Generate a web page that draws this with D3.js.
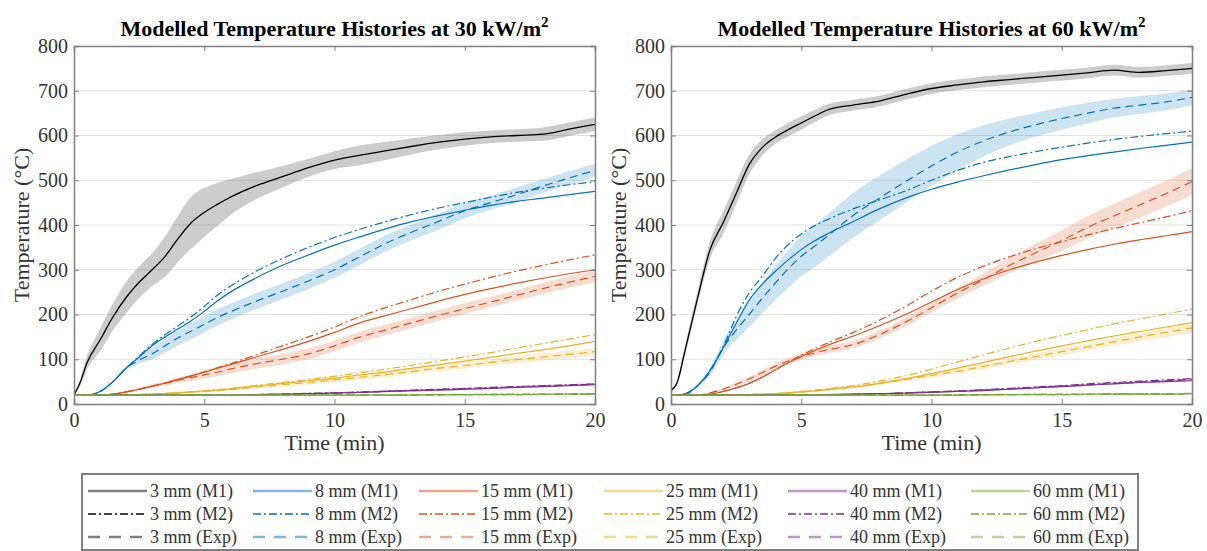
<!DOCTYPE html>
<html>
<head>
<meta charset="utf-8">
<script src="https://cdn.jsdelivr.net/npm/d3@7"></script>
<style>
  body { margin: 0; background: #fff; }
  svg, svg text { font-family: "Liberation Serif", "Times New Roman", serif; }
</style>
</head>
<body>
<svg id="chart" width="1207" height="551"></svg>
<script>
// time grid (min) shared by every series
const timeGrid = [0, 0.25, 0.5, 1, 1.5, 2, 2.5, 3, 3.5, 4, 4.5, 5, 5.5, 6, 7, 8, 9, 10, 11, 12, 13, 14, 15, 16, 17, 18, 19, 20];

const thicknesses = ["3 mm", "8 mm", "15 mm", "25 mm", "40 mm", "60 mm"];
const colors = ["#000000", "#0072BD", "#D95319", "#EDB120", "#7E2F8E", "#77AC30"];
const yTicks = [0, 100, 200, 300, 400, 500, 600, 700, 800];
const xTicks = [0, 5, 10, 15, 20];

// ---- 30 kW/m2 ----
const q30_3_exp  = [20,50,92,143,195,238,272,300,330,370,405,428,446,462,488,508,528,545,556,566,576,585,592,597,600,603,614,625];
const q30_3_band = [2,8,15,25,30,35,35,37,45,52,58,55,48,40,30,24,20,20,22,20,18,16,15,14,14,15,15,15];

const q30_8_m1   = [20,20,20,28,50,80,105,130,150,168,186,207,230,250,282,310,333,355,374,392,408,421,433,444,453,460,468,475];
const q30_8_m2   = [20,20,20,28,50,80,107,133,155,175,195,218,243,263,297,325,350,372,391,408,424,438,450,462,473,482,490,497];
const q30_8_exp  = [20,20,20,28,50,80,98,112,130,148,163,178,193,206,230,252,275,300,330,360,385,408,432,450,468,487,505,522];
const q30_8_band = [0,0,0,1,2,4,8,12,15,17,18,18,18,18,18,18,18,18,18,18,18,18,17,16,16,15,15,15];

const q30_15_m1   = [20,20,20,20,22,27,33,40,47,55,63,71,80,88,105,122,140,160,182,198,214,230,245,258,270,281,291,300];
const q30_15_m2   = [20,20,20,20,22,27,33,40,47,55,63,72,81,90,110,130,150,172,196,216,234,252,268,283,297,310,322,333];
const q30_15_exp  = [20,20,20,20,22,27,33,40,46,53,59,65,71,78,90,100,112,130,150,166,182,198,213,228,243,258,272,285];
const q30_15_band = [0,0,0,0,1,2,3,4,5,6,7,8,9,10,11,12,12,12,12,12,12,12,12,12,12,13,13,13];

const q30_25_m1   = [20,20,20,20,20,20,21,22,23,25,27,29,31,34,40,46,52,58,65,72,80,88,96,104,113,121,130,140];
const q30_25_m2   = [20,20,20,20,20,20,21,22,23,25,27,30,32,35,42,48,55,62,70,78,87,96,105,115,125,135,145,155];
const q30_25_exp  = [20,20,20,20,20,20,21,22,24,25,27,28,30,32,38,43,48,54,60,66,73,80,86,93,99,105,111,117];
const q30_25_band = [0,0,0,0,0,0,0,1,1,1,2,2,2,3,3,4,4,5,5,6,6,7,7,7,8,8,8,8];

const q30_40_m1   = [20,20,20,20,20,20,20,20,20,20,20,20,20,20,21,22,23,25,26,28,30,31,33,35,37,39,41,43];
const q30_40_m2   = [20,20,20,20,20,20,20,20,20,20,20,20,20,20,21,22,24,25,27,29,31,33,35,37,39,41,43,45];
const q30_40_exp  = [20,20,20,20,20,20,20,20,20,20,20,20,20,20,21,22,23,24,26,28,30,32,34,36,38,40,42,44];
const q30_40_band = [0,0,0,0,0,0,0,0,0,0,0,0,0,1,1,1,1,1,2,2,2,2,2,2,2,2,2,2];

const q30_60_m1   = [20,20,20,20,20,20,20,20,20,20,20,20,20,20,20,20,20,20,20,20,20,21,21,21,21,22,22,22];
const q30_60_m2   = [20,20,20,20,20,20,20,20,20,20,20,20,20,20,20,20,20,20,20,20,21,21,21,22,22,22,23,23];
const q30_60_exp  = [20,20,20,20,20,20,20,20,20,20,20,20,20,20,20,20,20,20,20,20,20,20,21,21,21,21,22,22];
const q30_60_band = [0,0,0,0,0,0,0,0,0,0,0,0,0,0,0,1,1,1,1,1,1,1,1,1,1,1,1,1];

// ---- 60 kW/m2 ----
const q60_3_exp  = [30,50,110,232,345,405,470,535,573,596,613,628,643,657,668,677,692,705,713,720,725,730,735,740,746,741,745,750];
const q60_3_band = [3,5,10,15,20,25,25,22,18,15,15,15,14,13,12,12,12,12,12,12,12,12,12,12,12,12,12,12];

const q60_8_m1   = [20,20,22,40,75,125,180,232,268,296,322,345,364,380,408,436,460,480,496,510,523,535,546,555,563,571,578,585];
const q60_8_m2   = [20,20,22,40,75,128,195,248,285,325,356,380,398,412,436,456,476,500,522,540,553,564,574,583,591,598,604,610];
const q60_8_exp  = [20,20,20,40,72,125,165,200,236,270,302,330,352,375,422,460,497,532,563,588,608,624,638,650,661,668,675,685];
const q60_8_band = [0,0,0,3,8,15,22,28,33,38,42,45,47,48,50,50,48,45,40,35,30,27,25,23,21,20,19,18];

const q60_15_m1   = [20,20,20,20,22,28,36,46,60,76,92,106,119,131,152,175,200,228,256,280,300,317,332,345,357,367,376,385];
const q60_15_m2   = [20,20,20,20,22,28,36,46,60,76,93,109,123,136,160,187,218,252,283,308,329,347,363,378,392,405,418,432];
const q60_15_exp  = [20,20,20,20,25,33,44,56,70,84,96,106,114,121,133,155,183,215,248,278,310,338,365,395,420,445,470,497];
const q60_15_band = [0,0,0,0,2,3,4,5,6,6,7,7,7,8,8,9,10,10,12,14,17,20,23,25,27,28,29,30];

const q60_25_m1   = [20,20,20,20,20,20,20,21,22,23,25,27,29,32,38,46,56,68,80,93,106,118,130,141,152,162,172,182];
const q60_25_m2   = [20,20,20,20,20,20,20,21,22,23,25,28,31,34,41,51,63,78,94,110,125,140,153,166,179,190,201,212];
const q60_25_exp  = [20,20,20,20,20,20,20,21,22,23,25,27,29,32,38,46,55,64,73,84,95,106,117,128,139,150,160,170];
const q60_25_band = [0,0,0,0,0,0,0,1,1,1,2,2,2,3,3,4,4,5,5,6,6,7,8,8,9,10,11,12];

const q60_40_m1   = [20,20,20,20,20,20,20,20,20,20,20,20,20,21,22,23,24,26,28,30,33,36,39,42,45,48,50,52];
const q60_40_m2   = [20,20,20,20,20,20,20,20,20,20,20,20,20,21,22,23,25,27,29,32,35,38,41,45,48,51,54,57];
const q60_40_exp  = [20,20,20,20,20,20,20,20,20,20,20,20,20,21,22,23,25,27,29,31,34,37,40,43,46,49,52,55];
const q60_40_band = [0,0,0,0,0,0,0,0,0,0,0,0,0,1,1,1,1,1,2,2,2,2,2,2,2,3,3,3];

const q60_60_m1   = [20,20,20,20,20,20,20,20,20,20,20,20,20,20,20,20,20,20,20,21,21,21,21,22,22,22,22,23];
const q60_60_m2   = [20,20,20,20,20,20,20,20,20,20,20,20,20,20,20,20,20,20,21,21,21,22,22,22,23,23,23,24];
const q60_60_exp  = [20,20,20,20,20,20,20,20,20,20,20,20,20,20,20,20,20,20,20,20,21,21,21,21,22,22,22,23];
const q60_60_band = [0,0,0,0,0,0,0,0,0,0,0,0,0,0,0,1,1,1,1,1,1,1,1,1,1,1,1,1];

const panels = [
  { flux: "30", x0: 74, x1: 595, series: [
    { exp: q30_3_exp, band: q30_3_band },
    { m1: q30_8_m1, m2: q30_8_m2, exp: q30_8_exp, band: q30_8_band },
    { m1: q30_15_m1, m2: q30_15_m2, exp: q30_15_exp, band: q30_15_band },
    { m1: q30_25_m1, m2: q30_25_m2, exp: q30_25_exp, band: q30_25_band },
    { m1: q30_40_m1, m2: q30_40_m2, exp: q30_40_exp, band: q30_40_band },
    { m1: q30_60_m1, m2: q30_60_m2, exp: q30_60_exp, band: q30_60_band }
  ]},
  { flux: "60", x0: 671, x1: 1192, series: [
    { exp: q60_3_exp, band: q60_3_band },
    { m1: q60_8_m1, m2: q60_8_m2, exp: q60_8_exp, band: q60_8_band },
    { m1: q60_15_m1, m2: q60_15_m2, exp: q60_15_exp, band: q60_15_band },
    { m1: q60_25_m1, m2: q60_25_m2, exp: q60_25_exp, band: q60_25_band },
    { m1: q60_40_m1, m2: q60_40_m2, exp: q60_40_exp, band: q60_40_band },
    { m1: q60_60_m1, m2: q60_60_m2, exp: q60_60_exp, band: q60_60_band }
  ]}
];

const plotTop = 46, plotBottom = 404;
const axisColor = "#808080";
const textColor = "#333";
const serif = "'Liberation Serif', 'Times New Roman', serif";
const svg = d3.select("#chart");

const y = d3.scaleLinear().domain([0, 800]).range([plotBottom, plotTop]);

const dashExp = "8,5";
const dashM2 = "8,3,2,3";

panels.forEach((p, pi) => {
  const x = d3.scaleLinear().domain([0, 20]).range([p.x0, p.x1]);
  const g = svg.append("g");

  // grid
  g.append("g").selectAll("line")
    .data(yTicks.slice(1, -1))
    .join("line")
      .attr("x1", p.x0).attr("x2", p.x1)
      .attr("y1", d => y(d)).attr("y2", d => y(d))
      .attr("stroke", "#e3e3e3").attr("stroke-width", 1);

  g.append("clipPath").attr("id", "clip" + pi)
    .append("rect").attr("x", p.x0).attr("y", plotTop).attr("width", p.x1 - p.x0).attr("height", plotBottom - plotTop);

  const plot = g.append("g").attr("clip-path", `url(#clip${pi})`);

  const line = arr => d3.line()
      .x((d, i) => x(timeGrid[i]))
      .y(d => y(d))
      .curve(d3.curveMonotoneX)(arr);
  const area = (mean, hw) => d3.area()
      .x((d, i) => x(timeGrid[i]))
      .y0((d, i) => y(d - hw[i]))
      .y1((d, i) => y(d + hw[i]))
      .curve(d3.curveMonotoneX)(mean);

  // bands
  p.series.forEach((s, si) => {
    plot.append("path")
      .attr("d", area(s.exp, s.band))
      .attr("fill", colors[si])
      .attr("fill-opacity", 0.2)
      .attr("stroke", "none");
  });

  // lines
  p.series.forEach((s, si) => {
    if (si === 0) {
      plot.append("path").attr("d", line(s.exp))
        .attr("fill", "none").attr("stroke", colors[si]).attr("stroke-width", 1.3);
      return;
    }
    plot.append("path").attr("d", line(s.exp))
      .attr("fill", "none").attr("stroke", colors[si]).attr("stroke-width", 1.2)
      .attr("stroke-dasharray", dashExp);
    plot.append("path").attr("d", line(s.m1))
      .attr("fill", "none").attr("stroke", colors[si]).attr("stroke-width", 1.2);
    plot.append("path").attr("d", line(s.m2))
      .attr("fill", "none").attr("stroke", colors[si]).attr("stroke-width", 1.2)
      .attr("stroke-dasharray", dashM2);
  });

  // axes (box with inward ticks on all sides)
  const xb = d3.axisBottom(x).tickValues(xTicks).tickSize(-5).tickPadding(9);
  const xt = d3.axisTop(x).tickValues(xTicks).tickSize(-5).tickFormat("");
  const yl = d3.axisLeft(y).tickValues(yTicks).tickSize(-5).tickPadding(6);
  const yr = d3.axisRight(y).tickValues(yTicks).tickSize(-5).tickFormat("");

  const axes = [
    g.append("g").attr("transform", `translate(0,${plotBottom})`).call(xb),
    g.append("g").attr("transform", `translate(0,${plotTop})`).call(xt),
    g.append("g").attr("transform", `translate(${p.x0},0)`).call(yl),
    g.append("g").attr("transform", `translate(${p.x1},0)`).call(yr)
  ];
  axes.forEach(a => {
    a.attr("font-family", null).attr("font-size", null);
    a.select(".domain").attr("stroke", axisColor).attr("stroke-width", 1.5);
    a.selectAll(".tick line").attr("stroke", axisColor);
    a.selectAll(".tick text").attr("fill", textColor)
      .style("font-family", serif).style("font-size", "20px");
  });

  // labels
  const cx = (p.x0 + p.x1) / 2;
  const title = g.append("text")
    .attr("x", cx).attr("y", 36)
    .attr("text-anchor", "middle")
    .attr("font-weight", "bold").attr("font-size", 22).attr("fill", "#000");
  title.append("tspan").text(`Modelled Temperature Histories at ${p.flux} kW/m`);
  title.append("tspan").attr("dy", -9).attr("font-size", 15).text("2");

  g.append("text")
    .attr("x", cx).attr("y", 450)
    .attr("text-anchor", "middle").attr("font-size", 22).attr("fill", textColor)
    .text("Time (min)");

  g.append("text")
    .attr("transform", `translate(${p.x0 - 45},${(plotTop + plotBottom) / 2}) rotate(-90)`)
    .attr("text-anchor", "middle").attr("font-size", 22).attr("fill", textColor)
    .text("Temperature (°C)");
});

// legend
const legendTypes = [
  { tag: "M1",  opacity: 0.5, width: 2.5, dash: null },
  { tag: "M2",  opacity: 1,   width: 1.3, dash: "8,3,2,3" },
  { tag: "Exp", opacity: 0.5, width: 2.5, dash: "12,9" }
];
const legendTextX = [150, 315, 481, 666, 850, 1033];
const leg = svg.append("g");
leg.append("rect")
  .attr("x", 82).attr("y", 474).attr("width", 1056).attr("height", 76)
  .attr("fill", "#fff").attr("stroke", axisColor).attr("stroke-width", 2);

thicknesses.forEach((th, ci) => {
  const tx = legendTextX[ci];
  legendTypes.forEach((lt, ri) => {
    const yy = 491 + ri * 23;
    leg.append("line")
      .attr("x1", tx - 62).attr("x2", tx - 3)
      .attr("y1", yy).attr("y2", yy)
      .attr("stroke", colors[ci]).attr("stroke-opacity", lt.opacity)
      .attr("stroke-width", lt.width)
      .attr("stroke-dasharray", lt.dash);
    leg.append("text")
      .attr("x", tx).attr("y", yy + 6)
      .attr("font-size", 18).attr("fill", textColor)
      .text(`${th} (${lt.tag})`);
  });
});
</script>
</body>
</html>
